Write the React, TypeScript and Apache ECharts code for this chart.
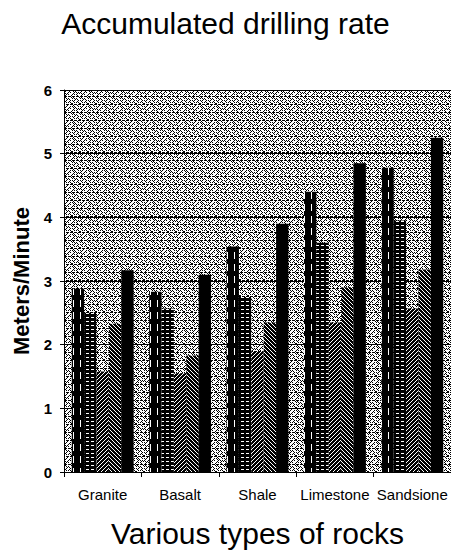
import React, { useEffect, useRef } from 'react';
import * as echarts from 'echarts';

const categories = ['Granite', 'Basalt', 'Shale', 'Limestone', 'Sandsione'];
const series1 = [2.88, 2.83, 3.54, 4.4, 4.78];
const series2 = [2.5, 2.57, 2.75, 3.6, 3.95];
const series3 = [1.58, 1.55, 1.9, 2.35, 2.57];
const series4 = [2.33, 1.83, 2.35, 2.9, 3.18];
const series5 = [3.17, 3.1, 3.9, 4.85, 5.25];
const yMin = 0;
const yMax = 6;
const yStep = 1;

const BG_TILE = [
  '1110111011101110',
  '0100000101000001',
  '1010100010101000',
  '0001010000010100',
  '1010001010100010',
  '0100010001000100',
  '0010101000101010',
  '1000000110000001',
  '1011101110111011',
  '0001000001000100',
  '1010001010100010',
  '0100010001010000',
  '1000101000101010',
  '0101000001000101',
  '0010100010101000',
  '0100000100000100',
];

function makeTile(w: number, h: number, isWhite: (x: number, y: number) => boolean) {
  const c = document.createElement('canvas');
  c.width = w;
  c.height = h;
  const ctx = c.getContext('2d')!;
  const img = ctx.createImageData(w, h);
  for (let y = 0; y < h; y++) {
    for (let x = 0; x < w; x++) {
      const i = (y * w + x) * 4;
      const v = isWhite(x, y) ? 255 : 0;
      img.data[i] = v;
      img.data[i + 1] = v;
      img.data[i + 2] = v;
      img.data[i + 3] = 255;
    }
  }
  ctx.putImageData(img, 0, 0);
  return { image: c, repeat: 'repeat', imageWidth: w, imageHeight: h } as any;
}

export default function App() {
  const ref = useRef<HTMLDivElement>(null);
  useEffect(() => {
    if (!ref.current) return;
    const chart = echarts.init(ref.current, undefined, { renderer: 'svg' });
    const bg = makeTile(16, 16, (x, y) => BG_TILE[y][x] === '0');
    const p1 = makeTile(7, 12, (x, y) => x === 3 && y < 7);
    const p2 = makeTile(5, 4, (x, y) => y === 1 && x >= 1 && x <= 3);
    const p3 = makeTile(4, 4, (x, y) => (x + y) % 4 === 0);
    const p4 = makeTile(4, 4, (x, y) => ((x - y) % 4 + 4) % 4 === 0);
    const font = "'Liberation Sans', Arial, sans-serif";
    const mk = (data: number[], color: any) => ({
      type: 'bar',
      data,
      barGap: '0%',
      barCategoryGap: '20%',
      itemStyle: { color },
    });
    chart.setOption({
      animation: false,
      title: {
        text: 'Accumulated drilling rate',
        left: 'center',
        top: 3,
        textStyle: { fontFamily: font, fontSize: 30, fontWeight: 'normal', color: '#000' },
      },
      grid: {
        left: 64,
        top: 90,
        width: 389,
        bottom: 82,
        show: true,
        backgroundColor: bg,
        borderWidth: 0,
      },
      xAxis: {
        type: 'category',
        data: categories,
        name: 'Various types of rocks',
        nameLocation: 'middle',
        nameGap: 46,
        nameTextStyle: { fontFamily: font, fontSize: 30, color: '#000' },
        axisLine: { lineStyle: { color: '#000', width: 1 } },
        axisTick: { show: true, length: 5, interval: 0, lineStyle: { color: '#000' } },
        axisLabel: { interval: 0, margin: 15, fontFamily: font, fontSize: 15, color: '#000' },
        splitLine: { show: false },
      },
      yAxis: {
        type: 'value',
        min: yMin,
        max: yMax,
        interval: yStep,
        name: 'Meters/Minute',
        nameLocation: 'middle',
        nameGap: 32,
        nameTextStyle: { fontFamily: font, fontSize: 22, fontWeight: 'bold', color: '#000' },
        axisLine: { show: true, lineStyle: { color: '#000', width: 1 } },
        axisTick: { show: true, length: 4, lineStyle: { color: '#000' } },
        axisLabel: { margin: 12, fontFamily: font, fontSize: 15, fontWeight: 'bold', color: '#000' },
        splitLine: { show: true, lineStyle: { color: '#000', width: 1 } },
      },
      series: [
        mk(series1, p1),
        mk(series2, p2),
        mk(series3, p3),
        mk(series4, p4),
        mk(series5, '#000'),
      ],
    });
    return () => chart.dispose();
  }, []);
  return (
    <div
      ref={ref}
      style={{ position: 'absolute', left: 0, top: 0, width: 451, height: 554, background: '#fff' }}
    />
  );
}
